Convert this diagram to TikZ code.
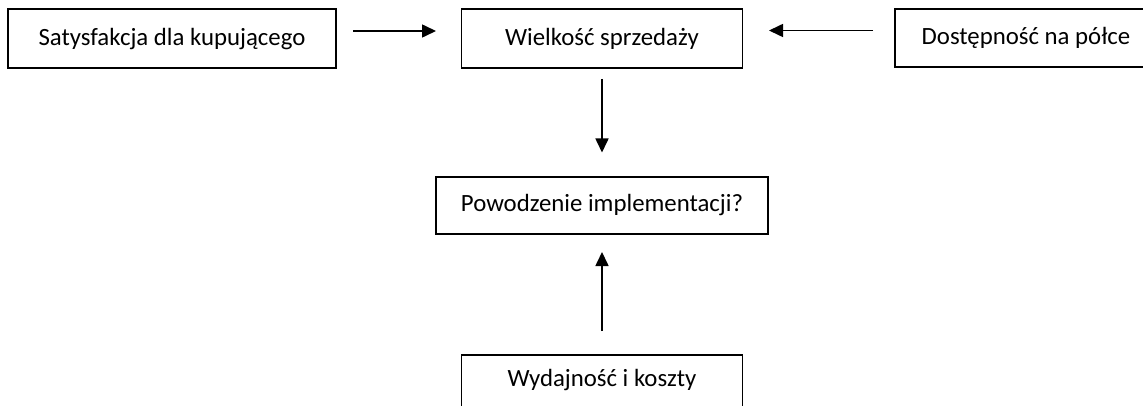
\documentclass[tikz,border=0pt]{standalone}
\usepackage{fontspec}
\setmainfont{Carlito}
\usetikzlibrary{arrows.meta}
\begin{document}
\begin{tikzpicture}[x=1pt,y=-1pt,
  lbl/.style={font=\fontsize{24.8}{29}\selectfont,inner sep=0pt},
  box/.style={draw=black,line width=1.6pt,rectangle,inner sep=0pt,lbl,anchor=center},
  conn/.style={line width=1.6pt,-{Triangle[length=14pt,width=13pt]}}]
\useasboundingbox (0,0) rectangle (1143,406);
\node[box,minimum width=328pt,minimum height=59pt] (sat) at (172,38.6) {Satysfakcja dla kupującego};
\node[box,minimum width=281pt,minimum height=59pt] (wiel) at (602,38.6) {Wielkość sprzedaży};
\node[box,minimum width=262pt,minimum height=58pt] (dost) at (1026,38.3) {};
\node[lbl] (dostt) at (1026,37.5) {Dostępność na półce};
\node[box,minimum width=332pt,minimum height=57pt] (pow) at (602,205.5) {Powodzenie implementacji?};
\node[box,minimum width=281pt,minimum height=59pt] (wyd) at (602,384.5) {};
\node[lbl] (wydt) at (602,380) {Wydajność i koszty};
\coordinate (a1s) at (353,31);
\coordinate (a1e) at (436,31);
\coordinate (a2s) at (873,30.5);
\coordinate (a2e) at (769,30.5);
\coordinate (a3s) at (602,79);
\coordinate (a3e) at (602,152.5);
\coordinate (a4s) at (602,331);
\coordinate (a4e) at (602,252);
\draw[conn] (a1s) -- (a1e);
\draw[conn] (a2s) -- (a2e);
\draw[conn] (a3s) -- (a3e);
\draw[conn] (a4s) -- (a4e);
\end{tikzpicture}
\end{document}
